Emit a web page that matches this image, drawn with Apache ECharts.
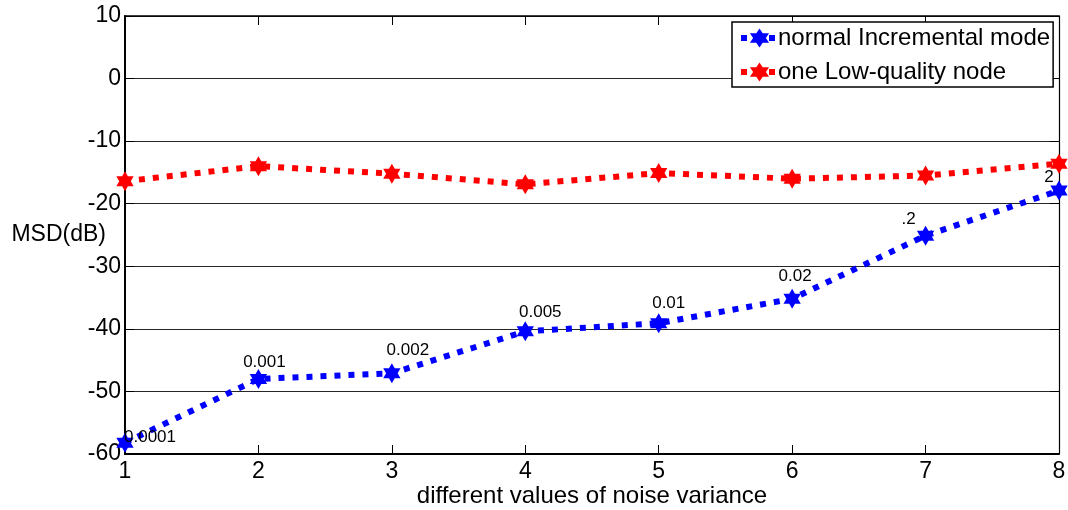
<!DOCTYPE html>
<html>
<head>
<meta charset="utf-8">
<script src="https://cdn.jsdelivr.net/npm/echarts@6/dist/echarts.min.js"></script>
<style>
  html, body { margin: 0; padding: 0; background: #fff; }
  #chart { width: 1068px; height: 510px; }
</style>
</head>
<body>
<div id="chart"></div>
<script>
// Test case index on the x axis
const cases = [1, 2, 3, 4, 5, 6, 7, 8];
// Noise variance used in each case (printed next to the blue points)
const varianceLabels = ['0.0001', '0.001', '0.002', '0.005', '0.01', '0.02', '.2', '2'];
// MSD in dB
const normalMsd = [-58.2, -48.0, -47.1, -40.4, -39.1, -35.2, -25.1, -17.9];
const lowQualityMsd = [-16.4, -14.0, -15.2, -16.9, -15.1, -16.0, -15.5, -13.6];
const yTicks = [-60, -50, -40, -30, -20, -10, 0, 10];

const seriesNames = ['normal Incremental mode', 'one Low-quality node'];

// Placement of the variance annotations relative to each point
const labelOffsets = [[25, -5], [6, -17], [16, -23], [15, -19], [10, -20], [3, -23], [-17, -16], [-10, -13]];

const FONT = '"Liberation Sans", Arial, sans-serif';
const STAR = 'path://M0,-10L2.887,-5L8.66,-5L5.774,0L8.66,5L2.887,5L0,10L-2.887,5L-8.66,5L-5.774,0L-8.66,-5L-2.887,-5Z';
const DASH = [6, 8];

const chart = echarts.init(document.getElementById('chart'), null, { renderer: 'canvas' });

const blueData = cases.map((x, i) => ({
  value: [x, normalMsd[i]],
  label: {
    show: true,
    formatter: varianceLabels[i],
    position: 'inside',
    offset: labelOffsets[i],
    color: '#000',
    fontFamily: FONT,
    fontSize: 17
  }
}));
const redData = cases.map((x, i) => [x, lowQualityMsd[i]]);

const lineSeries = (name, data, color, z) => ({
  name: name,
  type: 'line',
  data: data,
  symbol: STAR,
  symbolSize: 20,
  symbolKeepAspect: true,
  z: z,
  itemStyle: { color: color },
  lineStyle: { color: color, width: 6, type: DASH, cap: 'butt' },
  emphasis: { disabled: true },
  animation: false
});

chart.setOption({
  backgroundColor: '#fff',
  animation: false,
  textStyle: { fontFamily: FONT },
  grid: { left: 125, right: 9, top: 16, bottom: 56, containLabel: false, outerBoundsMode: 'none' },
  legend: {
    show: true,
    data: seriesNames,
    orient: 'vertical',
    left: 732,
    top: 22,
    padding: [4, 3, 3, 6],
    itemGap: 10,
    itemWidth: 37,
    itemHeight: 24,
    backgroundColor: '#fff',
    borderColor: '#000',
    borderWidth: 1.5,
    borderRadius: 0,
    lineStyle: { width: 6, type: DASH, cap: 'butt' },
    textStyle: { color: '#000', fontSize: 24, fontFamily: FONT, lineHeight: 24, padding: [0, 0, 0, -5] },
    selectedMode: false
  },
  xAxis: [
    {
      type: 'value',
      min: 1,
      max: 8,
      interval: 1,
      position: 'bottom',
      name: 'different values of noise variance',
      nameLocation: 'middle',
      nameGap: 30,
      nameMoveOverlap: false,
      nameTextStyle: { color: '#000', fontSize: 24, fontFamily: FONT },
      axisLine: { show: true, onZero: false, lineStyle: { color: '#000', width: 2 } },
      axisTick: { show: true, inside: true, length: 9, lineStyle: { color: '#000', width: 1 } },
      axisLabel: { color: '#000', fontSize: 23, fontFamily: FONT, margin: 6 },
      splitLine: { show: false }
    },
    {
      type: 'value',
      min: 1,
      max: 8,
      interval: 1,
      position: 'top',
      axisLine: { show: true, onZero: false, lineStyle: { color: '#000', width: 1.5 } },
      axisTick: { show: true, inside: true, length: 9, lineStyle: { color: '#000', width: 1 } },
      axisLabel: { show: false },
      splitLine: { show: false }
    }
  ],
  yAxis: [
    {
      type: 'value',
      min: yTicks[0],
      max: yTicks[yTicks.length - 1],
      interval: 10,
      position: 'left',
      name: 'MSD(dB)',
      nameLocation: 'middle',
      nameRotate: 0,
      nameGap: 19,
      nameMoveOverlap: false,
      nameTextStyle: { color: '#000', fontSize: 23, fontFamily: FONT, align: 'right', verticalAlign: 'middle' },
      axisLine: { show: true, onZero: false, lineStyle: { color: '#000', width: 2 } },
      axisTick: { show: true, inside: true, length: 9, lineStyle: { color: '#000', width: 1 } },
      axisLabel: { color: '#000', fontSize: 23, fontFamily: FONT, margin: 4 },
      splitLine: { show: true, lineStyle: { color: '#262626', width: 1 } }
    },
    {
      type: 'value',
      min: yTicks[0],
      max: yTicks[yTicks.length - 1],
      interval: 10,
      position: 'right',
      axisLine: { show: true, onZero: false, lineStyle: { color: '#000', width: 1.2 } },
      axisTick: { show: true, inside: true, length: 9, lineStyle: { color: '#000', width: 1 } },
      axisLabel: { show: false },
      splitLine: { show: false }
    }
  ],
  series: [
    lineSeries(seriesNames[0], blueData, '#0000ff', 3),
    lineSeries(seriesNames[1], redData, '#ff0000', 2)
  ]
});
</script>
</body>
</html>
